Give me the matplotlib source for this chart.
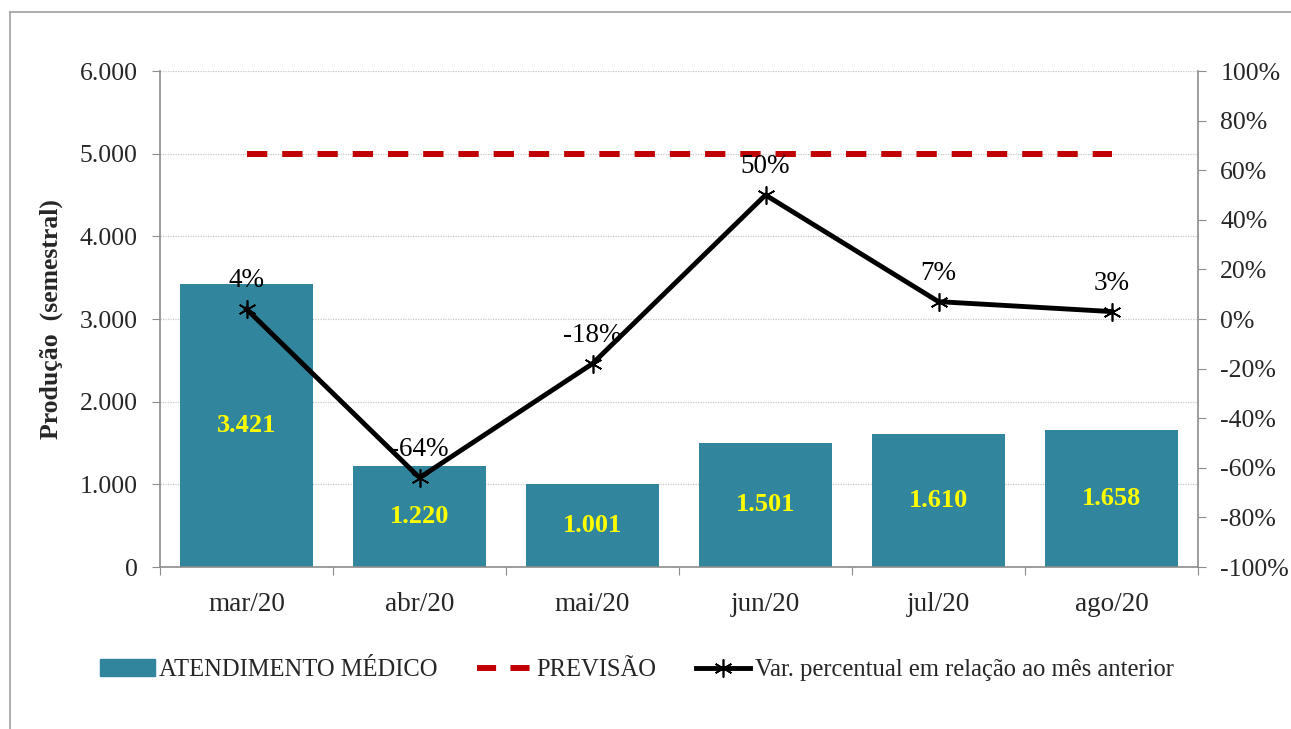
import matplotlib
matplotlib.use("agg")
import matplotlib.pyplot as plt
from matplotlib.lines import Line2D
import numpy as np

# data
months = ["mar/20", "abr/20", "mai/20", "jun/20", "jul/20", "ago/20"]
atendimento = [3421, 1220, 1001, 1501, 1610, 1658]
previsao = [5000, 5000, 5000, 5000, 5000, 5000]
variacao = [4, -64, -18, 50, 7, 3]

bar_color = "#31859C"
text_color = "#262626"
axis_color = "#8C8C8C"

plt.rcParams["font.family"] = ["Liberation Serif", "DejaVu Serif"]

fig = plt.figure(figsize=(12.91, 7.29), dpi=100)
ax = fig.add_axes([160 / 1291, 1 - 567 / 729, (1198 - 160) / 1291, (567 - 71) / 729])
x = np.arange(len(months))

# bars with values inside
ax.bar(x, atendimento, width=0.77, color=bar_color, zorder=2, label="ATENDIMENTO MÉDICO")
for xi, v in zip(x, atendimento):
    ax.text(xi, v / 2, f"{v:,}".replace(",", "."), ha="center", va="center",
            color="#FFFF00", fontsize=19, fontweight="bold", zorder=5)

# forecast line
ax.plot(x, previsao, color="#C00000", lw=4.3, dashes=(3.4, 2.5), zorder=3, label="PREVISÃO")

ax.set_xlim(-0.5, len(months) - 0.5)
ax.set_ylim(0, 6000)
ax.set_yticks(np.arange(0, 6001, 1000))
ax.set_yticklabels([f"{int(v):,}".replace(",", ".") for v in np.arange(0, 6001, 1000)])
ax.yaxis.grid(True, color="#C8C8C8", linestyle=(0, (1, 1)), lw=0.9, zorder=0)
ax.set_axisbelow(True)

# category labels between boundary ticks
ax.set_xticks(np.arange(-0.5, len(months), 1))
ax.set_xticklabels([])
ax.set_xticks(x, minor=True)
ax.set_xticklabels(months, minor=True)
ax.tick_params(axis="x", which="minor", length=0, pad=18, labelsize=19.5, labelcolor=text_color)
ax.tick_params(axis="x", which="major", length=6, color=axis_color)
ax.tick_params(axis="y", length=6, color=axis_color, labelsize=18.5, labelcolor=text_color, pad=10)

ax.set_ylabel("Produção  (semestral)", fontsize=18.5, fontweight="bold", color=text_color, labelpad=12)

for side in ["top", "right"]:
    ax.spines[side].set_visible(False)
for side in ["left", "bottom"]:
    ax.spines[side].set_color(axis_color)
    ax.spines[side].set_linewidth(1.2)

# percentage variation on secondary axis
ax2 = ax.twinx()
ax2.plot(x, variacao, color="black", lw=3.5, marker=(6, 2, 0), markersize=13,
         markeredgewidth=1.2, markeredgecolor="black", zorder=4,
         label="Var. percentual em relação ao mês anterior")
for xi, v in zip(x, variacao):
    ax2.annotate(f"{v}%", (xi, v), xytext=(0, 20.5), textcoords="offset points",
                 ha="center", va="center", fontsize=19.5, color="black")
ax2.set_ylim(-100, 100)
ax2.set_yticks(np.arange(-100, 101, 20))
ax2.set_yticklabels([f"{int(v)}%" for v in np.arange(-100, 101, 20)])
ax2.tick_params(axis="y", length=6, color=axis_color, labelsize=18.5, labelcolor=text_color, pad=10)
for side in ["top", "left", "bottom"]:
    ax2.spines[side].set_visible(False)
ax2.spines["right"].set_color(axis_color)
ax2.spines["right"].set_linewidth(1.2)

# legend below the plot
handles = [
    plt.Rectangle((0, 0), 1, 1, color=bar_color),
    Line2D([], [], color="#C00000", lw=4.3, dashes=(3.2, 2.4)),
    Line2D([], [], color="black", lw=3.5, marker=(6, 2, 0), markersize=13,
           markeredgewidth=1.2),
]
labels = ["ATENDIMENTO MÉDICO", "PREVISÃO", "Var. percentual em relação ao mês anterior"]
fig.legend(handles, labels, loc="center", bbox_to_anchor=(637 / 1291, 1 - 670 / 729),
           ncol=3, frameon=False, fontsize=17.7, handlelength=2.2, handletextpad=0.2,
           columnspacing=1.6, labelcolor=text_color)

# outer chart border
fig.add_artist(Line2D([10 / 1291, 10 / 1291], [0, 1 - 12 / 729], color="#A0A0A0", lw=1.2))
fig.add_artist(Line2D([10 / 1291, 1], [1 - 12 / 729, 1 - 12 / 729], color="#A0A0A0", lw=1.2))

fig.savefig("out.png", dpi=100)
plt.close(fig)
